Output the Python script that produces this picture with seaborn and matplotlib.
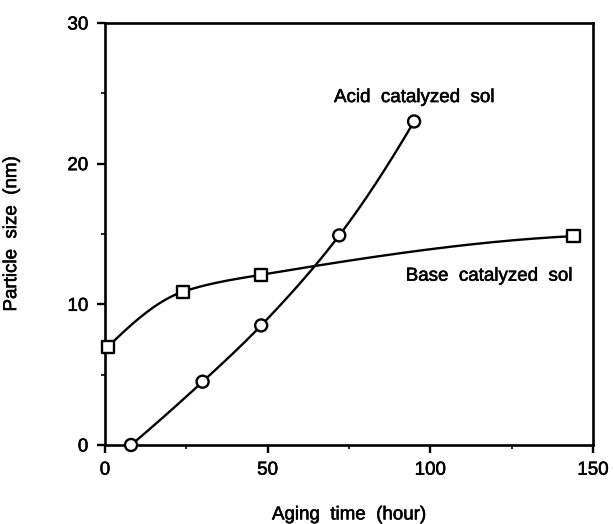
import numpy as np
import pandas as pd
import matplotlib
matplotlib.use("Agg")
import matplotlib.pyplot as plt
from matplotlib.ticker import MultipleLocator
import matplotlib.patheffects as pe
import seaborn as sns

# Measured particle size versus aging time
acid_time = [8, 30, 48, 72, 95]
acid_size = [0.0, 4.5, 8.5, 14.9, 23.0]
base_time = [1, 24, 48, 144]
base_size = [7.0, 10.9, 12.1, 14.85]

x_ticks = [0, 50, 100, 150]
y_ticks = [0, 10, 20, 30]


def pchip(x, y, xs):
    """Shape-preserving cubic Hermite curve through the measured points."""
    x = np.asarray(x, float)
    y = np.asarray(y, float)
    h = np.diff(x)
    d = np.diff(y) / h
    n = len(x)
    m = np.zeros(n)
    for k in range(1, n - 1):
        if d[k - 1] * d[k] > 0:
            w1 = 2 * h[k] + h[k - 1]
            w2 = h[k] + 2 * h[k - 1]
            m[k] = (w1 + w2) / (w1 / d[k - 1] + w2 / d[k])
    m[0] = ((2 * h[0] + h[1]) * d[0] - h[0] * d[1]) / (h[0] + h[1])
    if np.sign(m[0]) != np.sign(d[0]):
        m[0] = 0
    m[-1] = ((2 * h[-1] + h[-2]) * d[-1] - h[-1] * d[-2]) / (h[-1] + h[-2])
    if np.sign(m[-1]) != np.sign(d[-1]):
        m[-1] = 0
    idx = np.clip(np.searchsorted(x, xs) - 1, 0, n - 2)
    t = (xs - x[idx]) / h[idx]
    h00 = 2 * t**3 - 3 * t**2 + 1
    h10 = t**3 - 2 * t**2 + t
    h01 = -2 * t**3 + 3 * t**2
    h11 = t**3 - t**2
    return (h00 * y[idx] + h10 * h[idx] * m[idx]
            + h01 * y[idx + 1] + h11 * h[idx] * m[idx + 1])


sns.set_theme(style="ticks")
plt.rcParams["font.family"] = ["Liberation Sans", "DejaVu Sans"]
plt.rcParams["text.color"] = "black"
plt.rcParams["axes.labelcolor"] = "black"

# slightly heavier strokes for all lettering
heavy = [pe.withStroke(linewidth=0.4, foreground="black")]

fig = plt.figure(figsize=(6.13, 5.24), dpi=100)
ax = fig.add_axes([0.1713, 0.1508, 0.7961, 0.8053])

acid_xs = np.linspace(acid_time[0], acid_time[-1], 200)
base_xs = np.linspace(base_time[0], base_time[-1], 300)
curves = pd.concat([
    pd.DataFrame({"time": acid_xs, "size": pchip(acid_time, acid_size, acid_xs), "sol": "acid"}),
    pd.DataFrame({"time": base_xs, "size": pchip(base_time, base_size, base_xs), "sol": "base"}),
])
points = pd.concat([
    pd.DataFrame({"time": acid_time, "size": acid_size, "sol": "acid"}),
    pd.DataFrame({"time": base_time, "size": base_size, "sol": "base"}),
])

sns.lineplot(data=curves, x="time", y="size", units="sol", estimator=None,
             color="black", linewidth=1.7, ax=ax, legend=False, sort=False)
sns.scatterplot(data=points, x="time", y="size", style="sol",
                markers={"acid": "o", "base": "s"}, s=75, facecolor="white",
                edgecolor="black", linewidth=1.7, ax=ax, legend=False,
                zorder=3, clip_on=False)

ax.set_xlim(0, 150)
ax.set_ylim(0, 30)
ax.set_xticks(x_ticks)
ax.set_yticks(y_ticks)
ax.xaxis.set_minor_locator(MultipleLocator(25))
ax.yaxis.set_minor_locator(MultipleLocator(5))
ax.tick_params(which="major", direction="out", length=6, width=1.7,
               labelsize=13.5, color="black", labelcolor="black", pad=6)
ax.tick_params(which="minor", direction="out", length=3, width=1.2, color="black")
for lab in ax.get_xticklabels() + ax.get_yticklabels():
    lab.set_path_effects(heavy)
for s in ax.spines.values():
    s.set_linewidth(1.9)
    s.set_color("black")

ax.set_xlabel("Aging  time  (hour)", fontsize=13.5, labelpad=20, path_effects=heavy)
ax.set_ylabel("Particle  size  (nm)", fontsize=13.5, labelpad=34, path_effects=heavy)

ax.text(95, 24.7, "Acid  catalyzed  sol", fontsize=13.5, ha="center",
        va="center", path_effects=heavy)
ax.text(118, 12.0, "Base  catalyzed  sol", fontsize=13.5, ha="center",
        va="center", path_effects=heavy)

fig.savefig("out.png", dpi=100, facecolor="white")
